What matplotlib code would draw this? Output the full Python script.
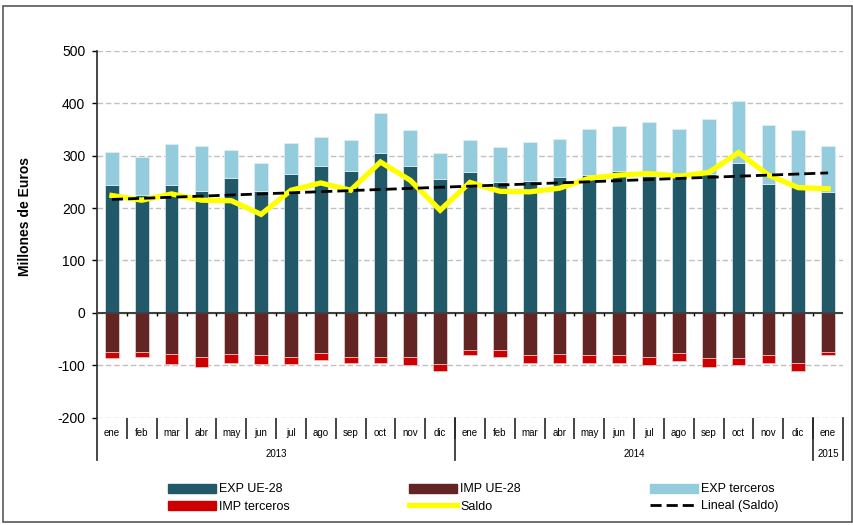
import numpy as np
import matplotlib
matplotlib.use("Agg")
import matplotlib.pyplot as plt
from matplotlib.patches import Rectangle, Patch
from matplotlib.lines import Line2D
import matplotlib.transforms as mtransforms

plt.rcParams["font.family"] = ["Liberation Sans", "DejaVu Sans"]
plt.rcParams["axes.unicode_minus"] = False

# data (millones de euros)
meses = ["ene", "feb", "mar", "abr", "may", "jun", "jul", "ago", "sep", "oct", "nov", "dic",
         "ene", "feb", "mar", "abr", "may", "jun", "jul", "ago", "sep", "oct", "nov", "dic",
         "ene"]
anios = ["2013", "2014", "2015"]
meses_por_anio = [12, 12, 1]

exp_ue = [244, 225, 244, 233, 257, 233, 265, 281, 271, 306, 281, 255,
          268, 249, 252, 260, 263, 271, 262, 259, 266, 287, 246, 245, 231]
exp_terceros = [64, 72, 78, 86, 54, 54, 59, 54, 59, 75, 68, 51,
                62, 67, 75, 72, 88, 86, 102, 92, 104, 117, 113, 104, 88]
imp_ue = [-74, -74, -79, -85, -79, -81, -85, -76, -85, -85, -85, -97,
          -71, -71, -81, -79, -81, -81, -85, -76, -87, -87, -81, -95, -74]
imp_terceros = [-13, -10, -18, -18, -16, -16, -12, -14, -10, -10, -15, -14,
                -10, -13, -14, -16, -14, -14, -15, -16, -16, -13, -14, -16, -7]
saldo = [224, 215, 227, 215, 214, 188, 234, 248, 234, 288, 253, 196,
         249, 232, 231, 238, 257, 263, 266, 261, 268, 306, 263, 239, 237]

c_exp_ue = "#215968"
c_imp_ue = "#632523"
c_exp_terc = "#93cddd"
c_imp_terc = "#cc0000"

W, H = 854, 525
fig = plt.figure(figsize=(W / 100, H / 100), dpi=100)

# plot area in pixels
x0, x1 = 97, 843
ytop, ybot = 51, 417.5
ax = fig.add_axes([x0 / W, 1 - ybot / H, (x1 - x0) / W, (ybot - ytop) / H])

x = np.arange(len(meses))
bw = 0.46
ax.bar(x, exp_ue, bw, color=c_exp_ue, edgecolor="#e4eef2", linewidth=0.5, zorder=2)
ax.bar(x, exp_terceros, bw, bottom=exp_ue, color=c_exp_terc, edgecolor="#e4eef2", linewidth=0.5, zorder=2)
ax.bar(x, imp_ue, bw, color=c_imp_ue, edgecolor="#eadada", linewidth=0.5, zorder=2)
ax.bar(x, imp_terceros, bw, bottom=imp_ue, color=c_imp_terc, edgecolor="#f0caca", linewidth=0.5, zorder=2)

ax.plot(x, saldo, color="#ffff00", lw=3.8, solid_joinstyle="miter", zorder=4)
p = np.polyfit(x, saldo, 1)
ax.plot(x, np.polyval(p, x), color="black", lw=2, dashes=(4, 1.8), zorder=5)

ax.set_xlim(-0.5, len(meses) - 0.5)
ax.set_ylim(-200, 500)
ax.set_yticks(range(-200, 501, 100))
ax.tick_params(axis="y", direction="out", length=3.5, width=1, pad=5, labelsize=10)
ax.set_xticks([])
for s in ["top", "right", "bottom", "left"]:
    ax.spines[s].set_visible(False)
ax.yaxis.grid(True, color="#c0c0c0", lw=1, ls=(0, (4, 2)))
ax.set_axisbelow(True)

# zero axis and little ticks on it
ax.axhline(0, color="#404040", lw=1.5, zorder=3)
ax.vlines(x[:-1] + 0.5, -6, 0, color="black", lw=1, zorder=3)

# left axis line running down through the category block
trans = mtransforms.blended_transform_factory(ax.transData, ax.transAxes)
ax.add_line(Line2D([-0.5, -0.5], [1, -0.116], transform=trans, color="#262626", lw=1.2, clip_on=False))

# category labels below plot
for i, m in enumerate(meses):
    ax.text(i, -0.0423, m, transform=trans, ha="center", va="center", fontsize=7)
ax.vlines(x[:-1] + 0.5, -0.0573, 0, transform=trans, color="#262626", lw=1.2, clip_on=False)
start = -0.5
for a, n in zip(anios, meses_por_anio):
    end = start + n
    ax.text((start + end) / 2, -0.0996, a, transform=trans, ha="center", va="center", fontsize=7)
    ax.add_line(Line2D([end, end], [0, -0.116], transform=trans, color="#262626", lw=1.2, clip_on=False))
    start = end

fig.text(25 / W, 1 - 217 / H, "Millones de Euros", rotation=90, ha="center", va="center",
         fontsize=10, fontweight="bold")

# legend, three columns as in the reference
cols = [
    ([Patch(color=c_exp_ue), Patch(color=c_imp_terc)], ["EXP UE-28", "IMP terceros"], 168),
    ([Patch(color=c_imp_ue), Line2D([], [], color="#ffff00", lw=3.8)], ["IMP UE-28", "Saldo"], 409),
    ([Patch(color=c_exp_terc), Line2D([], [], color="black", lw=2, dashes=(4, 1.8))],
     ["EXP terceros", "Lineal (Saldo)"], 650),
]
for handles, labels, px in cols:
    fig.legend(handles, labels, loc="upper left", bbox_to_anchor=(px / W, 1 - 483.5 / H),
               frameon=False, fontsize=9, handlelength=3.85, handleheight=0.7,
               handletextpad=0.25, labelspacing=0.4, borderpad=0, borderaxespad=0)

fig.add_artist(Rectangle((3.5 / W, 1 - 521.5 / H), 849 / W, 516 / H, transform=fig.transFigure,
                         fill=False, edgecolor="#595959", lw=1.2))

fig.savefig("out.png", dpi=100)
